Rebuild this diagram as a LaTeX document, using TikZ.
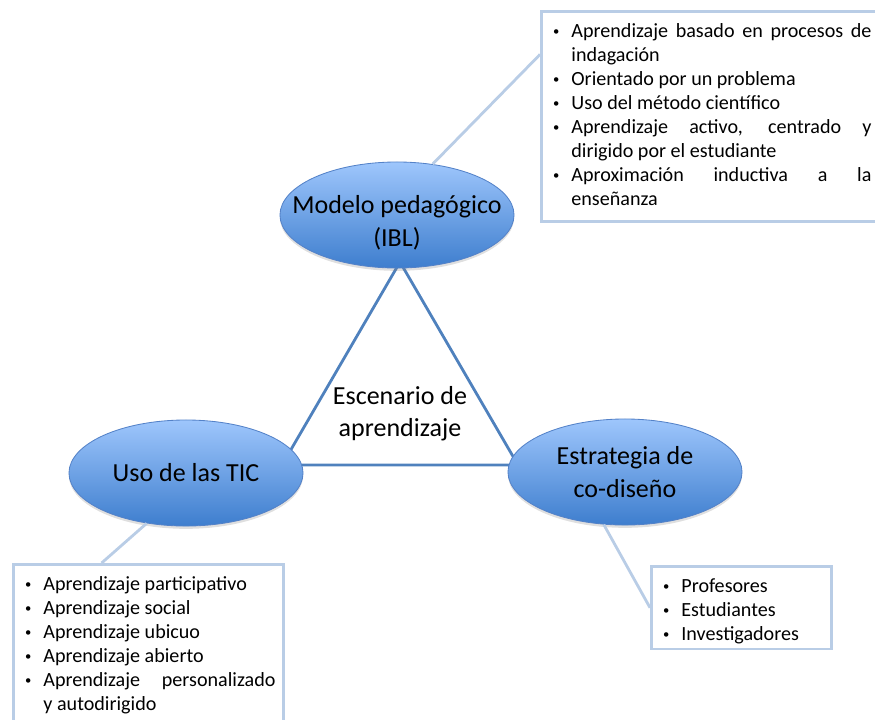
\documentclass[tikz,border=0pt]{standalone}
\usepackage{fontspec}
\setmainfont{Carlito}
\usepackage{enumitem}
\usetikzlibrary{shapes.geometric,shadows}

\definecolor{ovalline}{RGB}{84,130,200}
\definecolor{ovaltop}{RGB}{158,198,252}
\definecolor{ovalbot}{RGB}{62,126,206}
\definecolor{triline}{RGB}{79,129,189}
\definecolor{boxline}{RGB}{185,205,230}

\tikzset{
  oval/.style={ellipse, draw=ovalline, line width=0.6pt, top color=ovaltop, bottom color=ovalbot,
    minimum width=5.85cm, minimum height=2.65cm, inner sep=0pt, align=center,
    font=\fontsize{18.5}{23.5}\selectfont,
    drop shadow={opacity=0.25, shadow xshift=0pt, shadow yshift=-2pt}},
  listbox/.style={draw=boxline, line width=2pt, inner xsep=0.2cm, inner ysep=0.05cm,
    font=\fontsize{14.3}{17.07}\selectfont, align=justify},
  link/.style={draw=boxline, line width=2pt},
}
\setlist[itemize]{label={\raisebox{1.5pt}{\fontsize{9}{9}\selectfont\textbullet}}, leftmargin=0.55cm, labelsep=0.3cm, itemsep=0pt, parsep=0pt, topsep=0pt, partopsep=0pt}
\newcommand{\boxgap}[1]{\par\vspace{#1}\hrule height 0pt}

\begin{document}
\begin{tikzpicture}[x=0.025cm, y=-0.025cm]
\useasboundingbox (0,0) rectangle (875,719);

% Triangle between the three ovals
\coordinate (apex) at (400,262);
\coordinate (left) at (282,465);
\coordinate (right) at (518,465);
\draw[triline, line width=2pt, line join=round] (apex) -- (left) -- (right) -- cycle;
\node[font=\fontsize{18.5}{23}\selectfont, align=center] (escenario) at (400,414) {Escenario de\\aprendizaje};

% Ovals
\node[oval, inner xsep=-0.55cm] (ibl) at (397,215) {\rule{0pt}{24pt}Modelo pedagógico\\(IBL)};
\node[oval] (tic) at (186,473) {Uso de las TIC};
\node[oval] (cod) at (625,472) {Estrategia de\\co-diseño};

% Lists
\node[listbox, anchor=north west, text width=8.05cm] (iblbox) at (540,10) {%
\begin{itemize}
\item Aprendizaje basado en procesos de\linebreak indagación
\item Orientado por un problema
\item Uso del método científico
\item Aprendizaje activo, centrado y\linebreak dirigido por el estudiante
\item Aproximación inductiva a la\linebreak enseñanza
\end{itemize}\boxgap{0.35cm}};

\node[listbox, anchor=north west, text width=6.35cm] (ticbox) at (12,563) {%
\begin{itemize}
\item Aprendizaje participativo
\item Aprendizaje social
\item Aprendizaje ubicuo
\item Aprendizaje abierto
\item Aprendizaje personalizado\linebreak y autodirigido
\end{itemize}\boxgap{0.2cm}};

\node[listbox, anchor=north west, text width=4.1cm] (codbox) at (650,565) {%
\begin{itemize}
\item Profesores
\item Estudiantes
\item Investigadores
\end{itemize}\boxgap{0.08cm}};

% Links from ovals to lists
\draw[link] (ibl.55) -- (iblbox.160);
\draw[link] (tic.-128) -- (ticbox.120);
\draw[link] (cod.-112) -- (codbox.west);
\end{tikzpicture}
\end{document}
